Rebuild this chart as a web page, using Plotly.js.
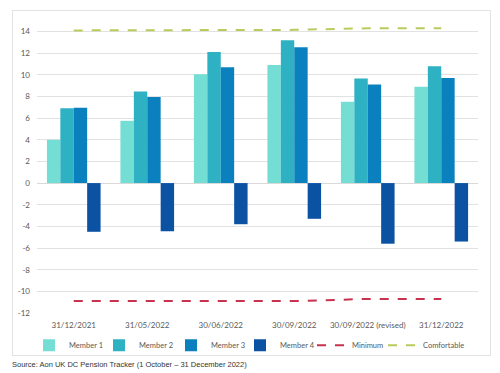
<!DOCTYPE html>
<html><head><meta charset="utf-8">
<script src="https://cdn.plot.ly/plotly-3.0.1.min.js"></script>
<style>
html,body{margin:0;padding:0;background:#fff;}
#frame{position:absolute;left:12px;top:10px;width:477px;height:344px;border:1px solid #e3e3e3;}
#chart{position:absolute;left:0;top:0;width:500px;height:373px;}
</style></head>
<body>
<div id="frame"></div>
<div id="chart"></div>
<script>
const categories = ["31/12/2021","31/05/2022","30/06/2022","30/09/2022","30/09/2022 (revised)","31/12/2022"];
const member1 = [4.0, 5.75, 10.05, 10.9, 7.5, 8.9];
const member2 = [6.9, 8.45, 12.1, 13.2, 9.65, 10.8];
const member3 = [6.95, 7.95, 10.7, 12.55, 9.1, 9.7];
const member4 = [-4.5, -4.45, -3.8, -3.3, -5.6, -5.4];
const minimum = [-10.9, -10.9, -10.9, -10.9, -10.7, -10.7];
const comfortable = [14.1, 14.1, 14.1, 14.15, 14.3, 14.3];
const yTicks = [-12,-10,-8,-6,-4,-2,0,2,4,6,8,10,12,14];

const legendIds = ['legend','legend2','legend3','legend4','legend5','legend6'];
const legendPx = [29, 99, 171, 240, 312, 383];

const bar = (name, y, color, lg) => ({type:'bar', name, x:categories, y, marker:{color}, legend:lg});
const data = [
  bar('Member 1', member1, '#74ddd4', 'legend'),
  bar('Member 2', member2, '#2eb1c2', 'legend2'),
  bar('Member 3', member3, '#0b80bf', 'legend3'),
  bar('Member 4', member4, '#0c52a3', 'legend4'),
  {type:'scatter', mode:'lines', name:'Minimum', x:categories, y:minimum,
   line:{color:'#c8324f', width:2, dash:'dash'}, legend:'legend5'},
  {type:'scatter', mode:'lines', name:'Comfortable', x:categories, y:comfortable,
   line:{color:'#b8cc5e', width:2, dash:'dash'}, legend:'legend6'}
];
const plotL = 37, plotW = 441;
const layout = {
  width:500, height:373,
  margin:{l:plotL, r:500-plotL-plotW, t:24.5, b:60},
  paper_bgcolor:'rgba(0,0,0,0)', plot_bgcolor:'rgba(0,0,0,0)',
  font:{family:'Lato, "Open Sans", sans-serif', size:8, color:'#595959'},
  bargap:0.27, bargroupgap:0,
  showlegend:true,
  xaxis:{type:'category', showgrid:false, showline:false, ticks:'', ticklabelstandoff:6,
    tickfont:{size:8, color:'#595959'}},
  yaxis:{range:[-12,14.6], tickvals:yTicks, ticktext:yTicks.map(String), showgrid:true, gridcolor:'#e2e2e2',
    zeroline:true, zerolinecolor:'#d9d9d9', zerolinewidth:1, showline:false, ticks:'', ticklabelstandoff:6,
    tickfont:{size:8, color:'#595959'}},
  annotations:[{text:'Source: Aon UK DC Pension Tracker (1 October \u2013 31 December 2022)',
    xref:'paper', yref:'paper', x:(10-plotL)/plotW, y:-0.18, xanchor:'left', yanchor:'middle', showarrow:false,
    font:{family:'"Liberation Sans", Arial, sans-serif', size:7.5, color:'#333'}}]
};
legendIds.forEach((id, i) => {
  layout[id] = {orientation:'h', x:(legendPx[i]-plotL)/plotW, xanchor:'left', y:-0.062, yanchor:'top',
    font:{size:7.5, color:'#595959'}, itemwidth:30, bgcolor:'rgba(0,0,0,0)'};
});
Plotly.newPlot('chart', data, layout, {displayModeBar:false, staticPlot:true});
</script>
</body></html>
